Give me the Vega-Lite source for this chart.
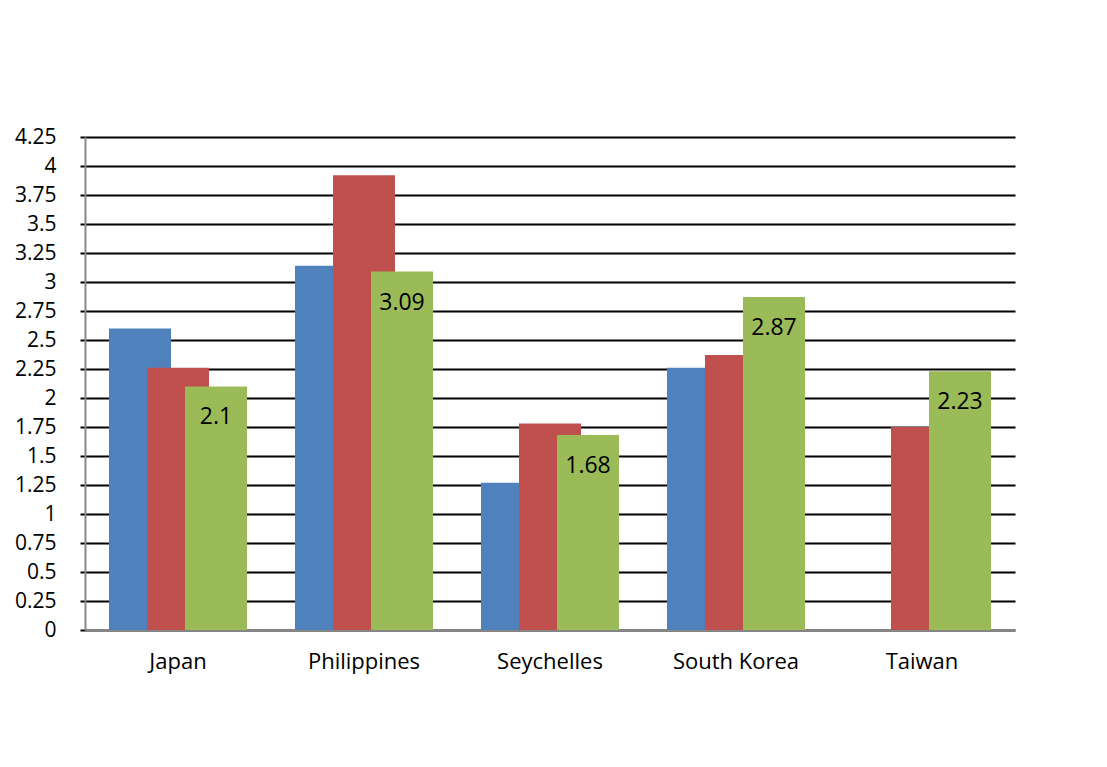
{
  "$schema": "https://vega.github.io/schema/vega-lite/v6.json",
  "width": 930,
  "height": 493,
  "autosize": {"type": "none"},
  "padding": {"left": 85, "top": 137, "right": 92, "bottom": 137},
  "background": "white",
  "config": {"view": {"stroke": null}},
  "data": {
    "values": [
      {"country": "Japan", "series": "Series 1", "value": 2.6},
      {"country": "Japan", "series": "Series 2", "value": 2.26},
      {"country": "Japan", "series": "Series 3", "value": 2.1},
      {"country": "Philippines", "series": "Series 1", "value": 3.14},
      {"country": "Philippines", "series": "Series 2", "value": 3.92},
      {"country": "Philippines", "series": "Series 3", "value": 3.09},
      {"country": "Seychelles", "series": "Series 1", "value": 1.27},
      {"country": "Seychelles", "series": "Series 2", "value": 1.78},
      {"country": "Seychelles", "series": "Series 3", "value": 1.68},
      {"country": "South Korea", "series": "Series 1", "value": 2.26},
      {"country": "South Korea", "series": "Series 2", "value": 2.37},
      {"country": "South Korea", "series": "Series 3", "value": 2.87},
      {"country": "Taiwan", "series": "Series 2", "value": 1.75},
      {"country": "Taiwan", "series": "Series 3", "value": 2.23}
    ]
  },
  "encoding": {
    "x": {
      "field": "country",
      "type": "nominal",
      "sort": null,
      "title": null,
      "scale": {"paddingInner": 0.387, "paddingOuter": 0.1935},
      "axis": {
        "labelAngle": 0,
        "labelFont": "Open Sans",
        "labelFontSize": 22,
        "labelColor": "black",
        "labelPadding": 21,
        "ticks": false,
        "domainColor": "#888888",
        "domainWidth": 2
      }
    },
    "y": {
      "field": "value",
      "type": "quantitative",
      "title": null,
      "scale": {"domain": [0, 4.25], "nice": false, "zero": true},
      "axis": {
        "values": [0, 0.25, 0.5, 0.75, 1, 1.25, 1.5, 1.75, 2, 2.25, 2.5, 2.75, 3, 3.25, 3.5, 3.75, 4, 4.25],
        "labelExpr": "'' + datum.value",
        "labelFont": "Open Sans",
        "labelFontSize": 21,
        "labelColor": "black",
        "labelPadding": 24,
        "tickSize": 5,
        "tickColor": "black",
        "tickWidth": 2,
        "grid": true,
        "gridColor": "black",
        "gridWidth": 2,
        "gridOpacity": 1,
        "domainColor": "#888888",
        "domainWidth": 2
      }
    },
    "color": {
      "field": "series",
      "type": "nominal",
      "scale": {"domain": ["Series 1", "Series 2", "Series 3"], "range": ["#4F81BD", "#C0504D", "#9BBB59"]},
      "legend": null
    }
  },
  "layer": [
    {
      "transform": [{"filter": "datum.series === 'Series 1'"}],
      "mark": {"type": "bar", "width": {"band": 0.5439}, "xOffset": -38}
    },
    {
      "transform": [{"filter": "datum.series === 'Series 2'"}],
      "mark": {"type": "bar", "width": {"band": 0.5439}, "xOffset": 0}
    },
    {
      "transform": [{"filter": "datum.series === 'Series 3'"}],
      "mark": {"type": "bar", "width": {"band": 0.5439}, "xOffset": 38}
    },
    {
      "transform": [{"filter": "datum.series === 'Series 3'"}],
      "mark": {"type": "text", "baseline": "middle", "dy": 31, "xOffset": 38, "fontSize": 23, "font": "Open Sans", "color": "black"},
      "encoding": {"text": {"field": "value", "type": "nominal"}, "color": {"value": "black"}}
    }
  ]
}
